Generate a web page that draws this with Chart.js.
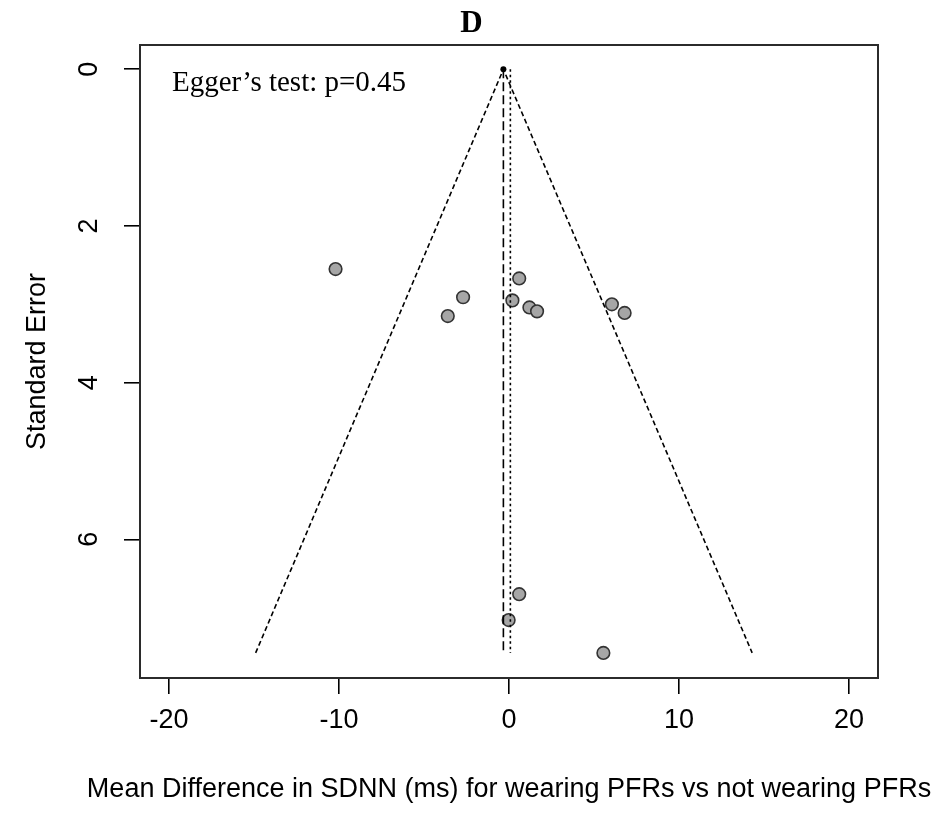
<!DOCTYPE html>
<html>
<head>
<meta charset="utf-8">
<script src="https://cdn.jsdelivr.net/npm/chart.js@4.4.1/dist/chart.umd.min.js"></script>
<style>
  html, body { margin: 0; padding: 0; background: #fff; }
  #wrap { width: 943px; height: 816px; }
</style>
</head>
<body>
<div id="wrap"><canvas id="funnel" width="943" height="816"></canvas></div>
<script>
// ---------- Data ----------
// study effects (mean difference, ms) and their standard errors
const studyMD = [-10.2, -2.7, -3.6, 0.6, 0.2, 1.2, 1.65, 6.05, 6.8, 0.6, -0.02, 5.55];
const studySE = [2.55, 2.91, 3.15, 2.67, 2.95, 3.04, 3.09, 3.00, 3.11, 6.70, 7.03, 7.45];

// pooled estimate and reference line
const pooledMD = -0.33;
const refMD = 0.08;

// pseudo-confidence funnel: apex at SE 0, base at the largest SE
const funnelSE = [7.45, 0, 7.45];
const funnelMD = [-14.9, pooledMD, 14.3];

// axes
const xTicks = [-20, -10, 0, 10, 20];
const yTicks = [0, 2, 4, 6];
const xRange = [-21.7, 21.7];
const yRange = [-0.31, 7.77];

const xLabel = "Mean Difference in SDNN (ms) for wearing PFRs vs not wearing PFRs";
const yLabel = "Standard Error";
const panelTag = "D";
const eggerNote = "Egger\u2019s test: p=0.45";

const SANS = "'Liberation Sans', Arial, sans-serif";
const SERIF = "'Liberation Serif', 'Times New Roman', serif";

const pts = (xs, ys) => xs.map((x, i) => ({ x: x, y: ys[i] }));

// ---------- Plugins ----------
// box, rotated y tick labels, axis titles, panel letter and the Egger note
const frame = {
  id: "frame",
  afterDraw(chart) {
    const { ctx, chartArea: a, scales } = chart;
    ctx.save();
    ctx.strokeStyle = "#2b2b2b";
    ctx.lineWidth = 2;
    ctx.strokeRect(a.left, a.top, a.right - a.left, a.bottom - a.top);

    ctx.fillStyle = "#000";
    ctx.font = "27px " + SANS;
    ctx.textAlign = "center";
    ctx.textBaseline = "middle";
    yTicks.forEach((v) => {
      const py = scales.y.getPixelForValue(v);
      ctx.save();
      ctx.translate(90, py);
      ctx.rotate(-Math.PI / 2);
      ctx.fillText(String(v), 0, 0);
      ctx.restore();
    });

    // axis titles (drawn here so they are not squeezed to the plot width)
    ctx.fillText(xLabel, (a.left + a.right) / 2, 790);
    ctx.save();
    ctx.translate(38, (a.top + a.bottom) / 2);
    ctx.rotate(-Math.PI / 2);
    ctx.fillText(yLabel, 0, 0);
    ctx.restore();

    ctx.font = "bold 31px " + SERIF;
    ctx.textBaseline = "alphabetic";
    ctx.fillText(panelTag, chart.width / 2, 32);

    ctx.font = "29px " + SERIF;
    ctx.textAlign = "left";
    ctx.fillText(eggerNote, a.left + 32, a.top + 46);
    ctx.restore();
  }
};

// ---------- Chart ----------
const lineStyle = (dash) => ({
  type: "line",
  showLine: true,
  borderColor: "#000",
  borderWidth: 1.6,
  borderDash: dash,
  pointRadius: 0,
  fill: false,
  tension: 0
});

new Chart(document.getElementById("funnel"), {
  type: "scatter",
  data: {
    datasets: [
      Object.assign({ data: pts(funnelMD, funnelSE) }, lineStyle([5, 3])),
      Object.assign({ data: pts([pooledMD, pooledMD], [0, 7.45]) }, lineStyle([9, 4])),
      Object.assign({ data: pts([refMD, refMD], [0, 7.45]) }, lineStyle([2.5, 3])),
      {
        data: pts([pooledMD], [0]),
        pointRadius: 3,
        pointBackgroundColor: "#000",
        pointBorderWidth: 0
      },
      {
        data: pts(studyMD, studySE),
        pointRadius: 6.3,
        pointBackgroundColor: "#a6a6a6",
        pointBorderColor: "#333",
        pointBorderWidth: 1.6
      }
    ]
  },
  options: {
    responsive: false,
    animation: false,
    layout: { padding: { left: 0, right: 65, top: 45, bottom: 0 } },
    plugins: {
      legend: { display: false },
      tooltip: { enabled: false },
      title: { display: false }
    },
    scales: {
      x: {
        type: "linear",
        min: xRange[0],
        max: xRange[1],
        afterBuildTicks: (s) => { s.ticks = xTicks.map((v) => ({ value: v })); },
        afterFit: (s) => { s.height = 138; },
        grid: { drawOnChartArea: false, drawTicks: true, tickLength: 16, color: "#000", lineWidth: 1.6 },
        border: { display: false },
        ticks: {
          color: "#000",
          padding: 10,
          maxRotation: 0,
          font: { family: SANS, size: 27 },
          callback: (v) => String(v)
        },
        title: { display: false }
      },
      y: {
        type: "linear",
        reverse: true,
        min: yRange[0],
        max: yRange[1],
        afterBuildTicks: (s) => { s.ticks = yTicks.map((v) => ({ value: v })); },
        afterFit: (s) => { s.width = 140; },
        grid: { drawOnChartArea: false, drawTicks: true, tickLength: 16, color: "#000", lineWidth: 1.6 },
        border: { display: false },
        ticks: { display: false },
        title: { display: false }
      }
    }
  },
  plugins: [frame]
});
</script>
</body>
</html>
